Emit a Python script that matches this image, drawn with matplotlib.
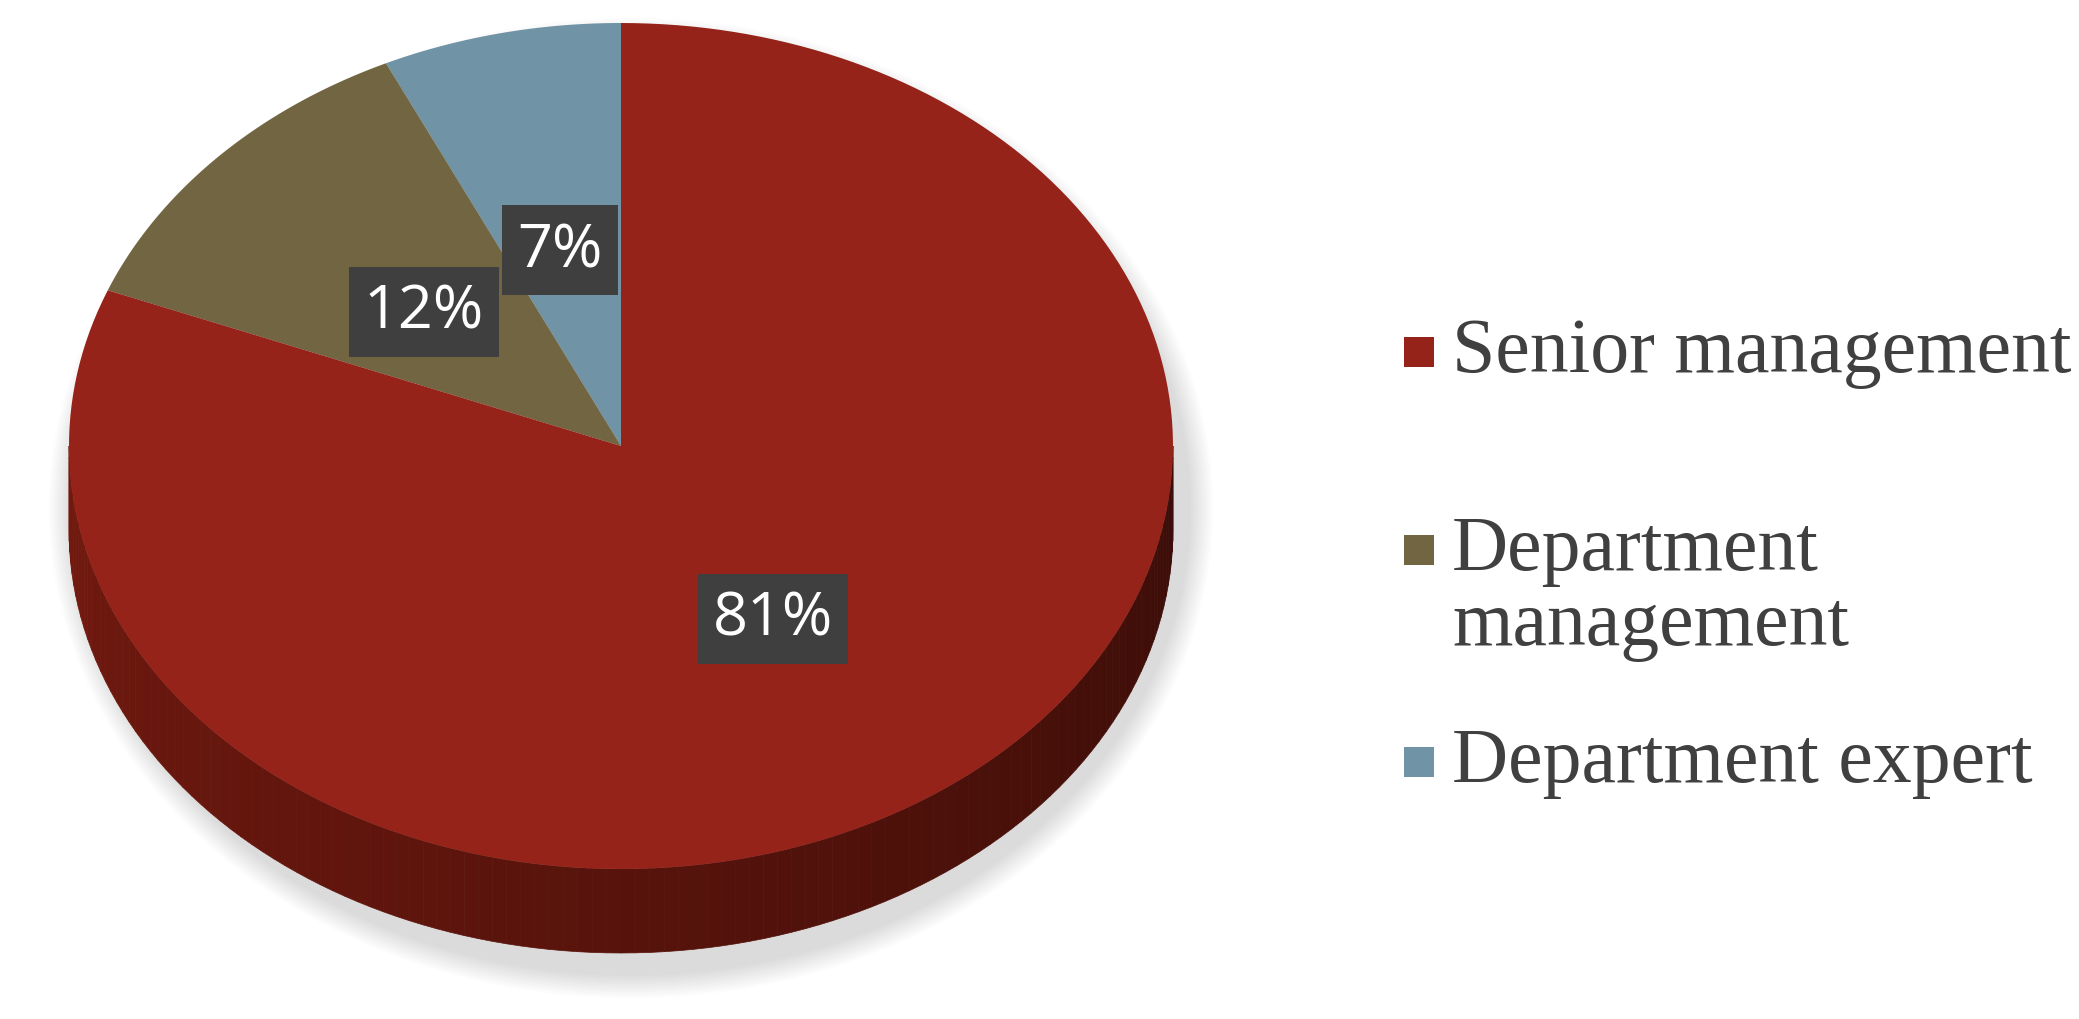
import numpy as np
import matplotlib.pyplot as plt
from matplotlib.patches import Polygon, Ellipse, Rectangle

labels = ["Senior management", "Department\nmanagement", "Department expert"]
values = [81, 12, 7]
colors = ["#96231A", "#716542", "#7093A5"]
pct_text = ["81%", "12%", "7%"]
pct_pos = [(773, 620), (424, 313), (560, 251)]

W, H = 2079, 1020
fig = plt.figure(figsize=(W / 100, H / 100), dpi=100)
ax = fig.add_axes([0, 0, 1, 1])
ax.set_xlim(0, W)
ax.set_ylim(H, 0)
ax.axis("off")

cx, cy, rx, ry, depth = 621, 447, 552, 423, 84


def pt(t, dy=0):
    t = np.radians(t)
    return cx + rx * np.cos(t), cy - ry * np.sin(t) + dy


# soft shadow
for k in range(12):
    ax.add_patch(Ellipse((cx + 10, cy + depth / 2 + 20), 2 * rx + 60 - 4 * k,
                         2 * ry + depth + 50 - 4 * k, color="#808080",
                         alpha=0.025, lw=0))

# side of the pie with a light-to-dark gradient
n = 120
ts = np.linspace(180, 360, n + 1)
for i in range(n):
    a, b = ts[i], ts[i + 1]
    f = i / n
    c = np.array([0.45, 0.10, 0.06]) * (1 - f) + np.array([0.23, 0.05, 0.03]) * f
    p = [pt(a), pt(b), pt(b, depth), pt(a, depth)]
    ax.add_patch(Polygon(p, closed=True, color=c, lw=0.5))

# top wedges, counterclockwise from 12 o'clock: expert, dept mgmt, senior
order = [2, 1, 0]
start = 90.0
total = sum(values)
for i in order:
    span = 360.0 * values[i] / total
    tt = np.linspace(start, start + span, 200)
    p = [(cx, cy)] + [pt(t) for t in tt]
    ax.add_patch(Polygon(p, closed=True, color=colors[i], lw=0))
    start += span

# percentage labels
for txt, (x, y) in zip(pct_text, pct_pos):
    ax.text(x, y, txt, ha="center", va="center", color="white", fontsize=44,
            family="Open Sans",
            bbox=dict(boxstyle="square,pad=0.25", fc="#3f3f3f", ec="none"))

# legend
leg_y = [353, 551, 763]
for lab, col, y in zip(labels, colors, leg_y):
    ax.add_patch(Rectangle((1404, y - 15), 30, 30, color=col, lw=0))
    ax.text(1452, y - 35, lab, ha="left", va="top", fontsize=56,
            family="Liberation Serif", color="#404040", linespacing=1.05)

fig.savefig("out.png", dpi=100)
